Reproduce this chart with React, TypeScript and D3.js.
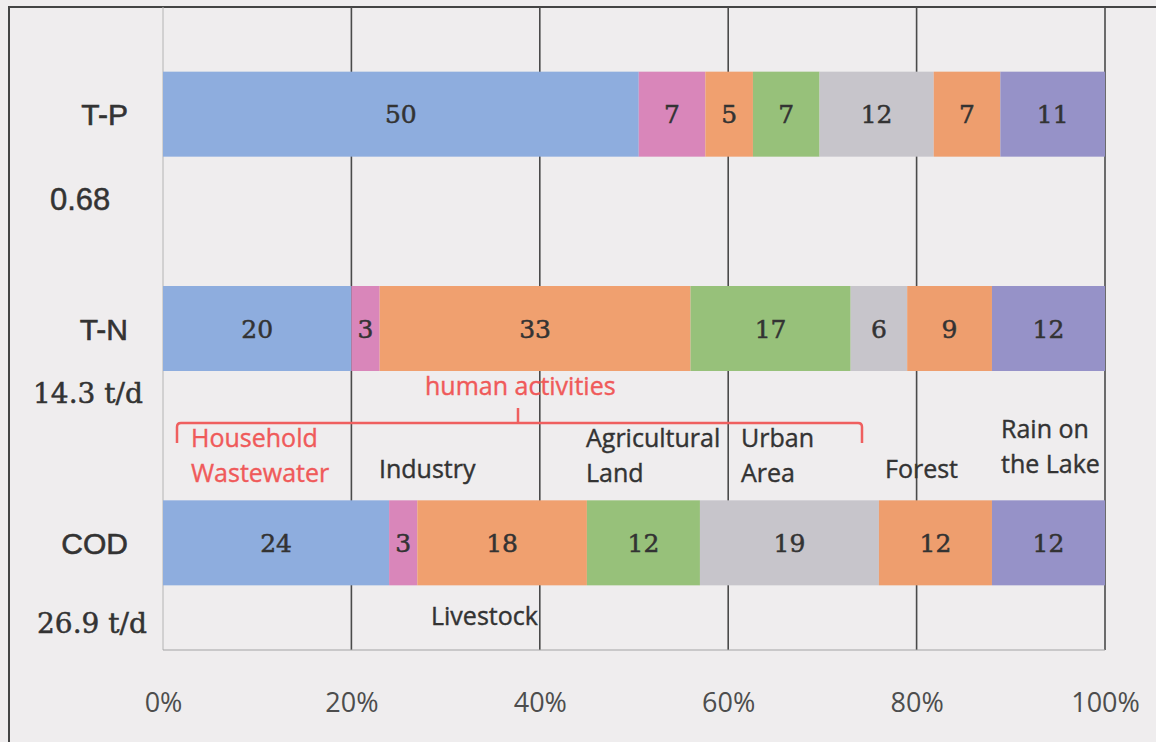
import React, { useEffect, useRef } from "react";
import * as d3 from "d3";

// values (percent shares per source)
const categories = ["T-P", "T-N", "COD"];
const loads = ["0.68", "14.3 t/d", "26.9 t/d"];
const sources = ["household", "industry", "livestock", "agri", "urban", "forest", "rain"];
const tpValues = [50, 7, 5, 7, 12, 7, 11];
const tnValues = [20, 3, 33, 17, 6, 9, 12];
const codValues = [24, 3, 18, 12, 19, 12, 12];
const xTicks = [0, 0.2, 0.4, 0.6, 0.8, 1];

const colors = ["#8eadde", "#d986ba", "#f0a06f", "#97c17a", "#c7c5cb", "#ee9e6e", "#9692c8"];

const W = 1156;
const H = 742;
const margin = { top: 7, right: 51, bottom: 92, left: 163 };

// annotation text placed on the chart (x, baseline y)
const notes = [
  { text: "human activities", x: 425, y: 395, red: true },
  { text: "Household", x: 191, y: 447, red: true },
  { text: "Wastewater", x: 191, y: 482, red: true },
  { text: "Industry", x: 379, y: 478 },
  { text: "Agricultural", x: 586, y: 447 },
  { text: "Land", x: 586, y: 482 },
  { text: "Urban", x: 741, y: 447 },
  { text: "Area", x: 741, y: 482 },
  { text: "Forest", x: 885, y: 478 },
  { text: "Rain on", x: 1001, y: 438 },
  { text: "the Lake", x: 1001, y: 473 },
  { text: "Livestock", x: 431, y: 625 },
];
const loadX = [50, 33, 37];
const loadY = [210, 403, 633];

export default function App() {
  const ref = useRef<SVGSVGElement>(null);

  useEffect(() => {
    const svg = d3.select(ref.current);
    svg.selectAll("*").remove();

    const rows = [tpValues, tnValues, codValues].map((vals, i) => {
      const r: any = { cat: categories[i] };
      sources.forEach((s, j) => (r[s] = vals[j]));
      return r;
    });
    // T-P only sums to 99, so each bar is stretched to 100%
    const series = d3.stack().keys(sources).offset(d3.stackOffsetExpand)(rows);

    const x = d3.scaleLinear().domain([0, 1]).range([margin.left, W - margin.right]);
    const y = d3.scalePoint().domain(categories).range([margin.top, H - margin.bottom]).padding(0.5);
    const barH = 85;
    const bottom = H - margin.bottom;

    svg.append("rect").attr("width", W).attr("height", H).attr("fill", "#efedee");

    // outer frame
    svg.append("path")
      .attr("d", `M9,${H} L9,7 L${W},7`)
      .attr("fill", "none")
      .attr("stroke", "#444")
      .attr("stroke-width", 2);

    // grid
    svg.append("g")
      .selectAll("line")
      .data(xTicks.filter(t => t > 0))
      .join("line")
      .attr("x1", d => x(d)).attr("x2", d => x(d))
      .attr("y1", margin.top).attr("y2", bottom)
      .attr("stroke", "#4a4a4a")
      .attr("stroke-width", 1.6);

    svg.append("line")
      .attr("x1", x(0)).attr("x2", x(0))
      .attr("y1", margin.top).attr("y2", bottom)
      .attr("stroke", "#b4b4b4");
    svg.append("line")
      .attr("x1", x(0)).attr("x2", x(1))
      .attr("y1", bottom).attr("y2", bottom)
      .attr("stroke", "#a4a4a4")
      .attr("stroke-width", 1.2);

    // stacked bars
    const groups = svg.append("g")
      .selectAll("g")
      .data(series)
      .join("g")
      .attr("fill", (d, i) => colors[i]);

    groups.selectAll("rect")
      .data(d => d)
      .join("rect")
      .attr("x", d => x(d[0]))
      .attr("width", d => x(d[1]) - x(d[0]))
      .attr("y", d => (y(d.data.cat as string) as number) - barH / 2)
      .attr("height", barH);

    groups.selectAll("text")
      .data(d => d.map(p => ({ p, key: d.key })))
      .join("text")
      .attr("x", d => (x(d.p[0]) + x(d.p[1])) / 2)
      .attr("y", d => (y(d.p.data.cat as string) as number) + 9)
      .attr("text-anchor", "middle")
      .attr("fill", "#333")
      .attr("stroke", "#333")
      .attr("stroke-width", 0.5)
      .style("font-family", "'DejaVu Serif', serif")
      .style("font-size", "25px")
      .text(d => d.p.data[d.key]);

    // category labels and loads
    svg.append("g")
      .selectAll("text")
      .data(categories)
      .join("text")
      .attr("x", 128)
      .attr("y", d => (y(d) as number) + 11)
      .attr("text-anchor", "end")
      .attr("fill", "#333")
      .attr("stroke", "#333")
      .attr("stroke-width", 0.6)
      .style("font-family", "'Liberation Sans', Arial, sans-serif")
      .style("font-size", "30px")
      .text(d => d);

    svg.append("g")
      .selectAll("text")
      .data(loads)
      .join("text")
      .attr("x", (d, i) => loadX[i])
      .attr("y", (d, i) => loadY[i])
      .attr("fill", "#333")
      .attr("stroke", "#333")
      .attr("stroke-width", 0.5)
      .style("font-family", (d, i) => (i === 0 ? "'Liberation Sans', sans-serif" : "'DejaVu Serif', serif"))
      .style("font-size", (d, i) => (i === 0 ? "31px" : "28px"))
      .text(d => d);

    // x axis labels
    const axis = svg.append("g")
      .attr("transform", `translate(0,${bottom + 40})`)
      .call(d3.axisBottom(x).tickValues(xTicks).tickFormat(d3.format(".0%")).tickSize(0));
    axis.select(".domain").remove();
    axis.selectAll("text")
      .attr("fill", "#4d4d4d")
      .style("font-family", "'Open Sans', sans-serif")
      .style("font-size", "27px");

    // human activities brace
    svg.append("path")
      .attr("d", "M177,443 L177,427 Q177,423 181,423 L858,423 Q862,423 862,427 L862,443 M518,423 L518,408")
      .attr("fill", "none")
      .attr("stroke", "#ef5f5f")
      .attr("stroke-width", 2.5);

    svg.append("g")
      .selectAll("text")
      .data(notes)
      .join("text")
      .attr("x", d => d.x)
      .attr("y", d => d.y)
      .attr("fill", d => (d.red ? "#ef5a5a" : "#333"))
      .attr("stroke", d => (d.red ? "#ef5a5a" : "#333"))
      .attr("stroke-width", 0.4)
      .style("font-family", "'Open Sans', sans-serif")
      .style("font-size", "25px")
      .text(d => d.text);
  }, []);

  return (
    <svg
      ref={ref}
      width={W}
      height={H}
      style={{ position: "absolute", left: 0, top: 0, display: "block" }}
    />
  );
}
